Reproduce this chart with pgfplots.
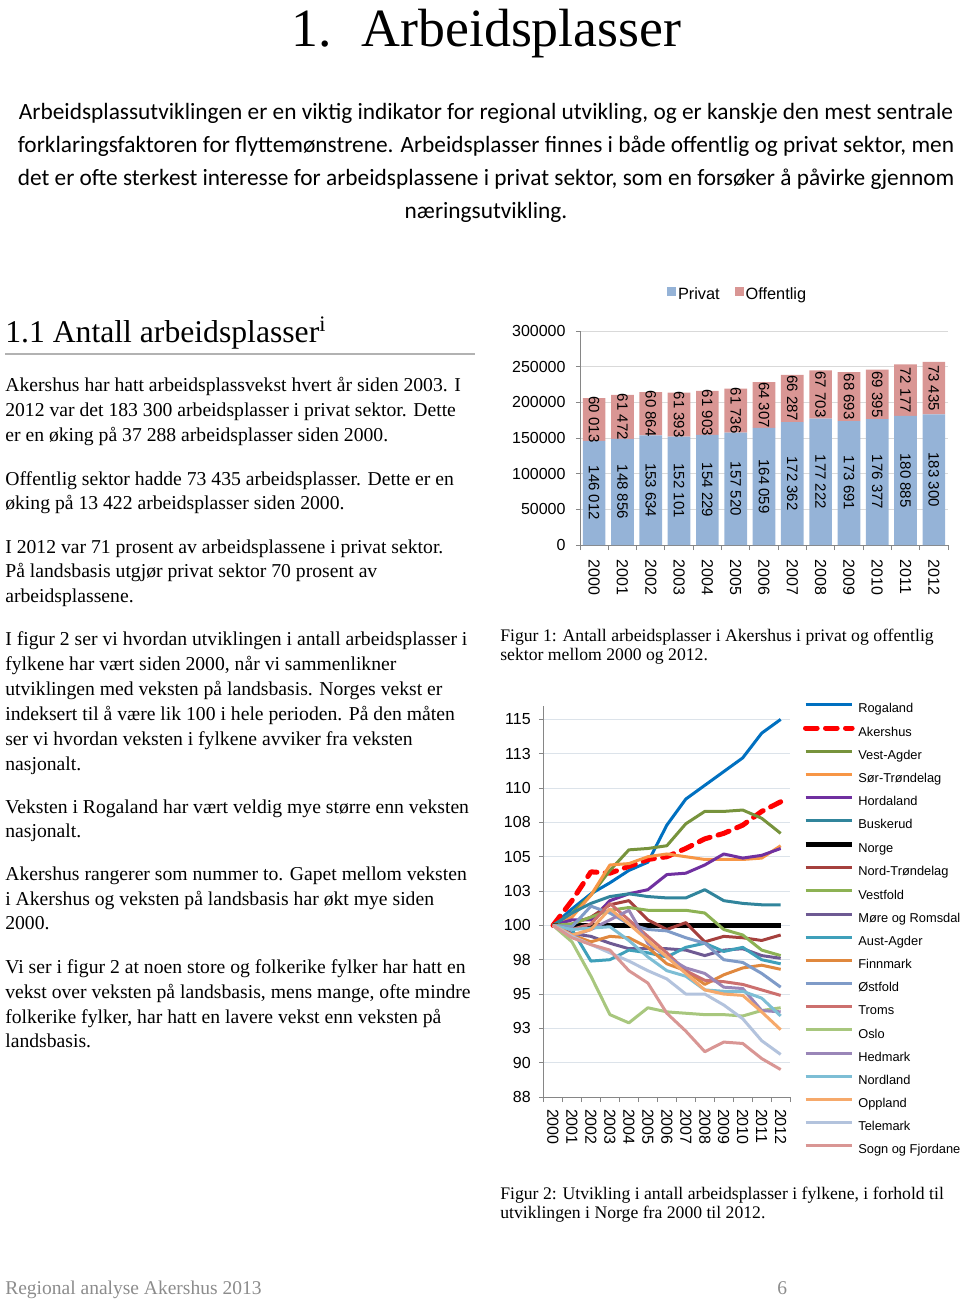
\documentclass[border=0pt]{standalone}
\usepackage{fontspec}
\setmainfont{Liberation Serif}
\setsansfont{Liberation Sans}
\newfontfamily\carlito{Carlito}
\usepackage{pgfplots}
\usepackage{pgfplotstable}
\pgfplotsset{compat=1.18}

\definecolor{cPriv}{HTML}{95B3D7}
\definecolor{cOff}{HTML}{D99694}
\definecolor{axisgray}{HTML}{868686}
\definecolor{gridgray}{HTML}{D9D9D9}
\definecolor{linegrid}{HTML}{DCE3EA}
\definecolor{cRog}{HTML}{0070C0}
\definecolor{cAke}{HTML}{FF0000}
\definecolor{cVA}{HTML}{77933C}
\definecolor{cST}{HTML}{F79646}
\definecolor{cHor}{HTML}{7030A0}
\definecolor{cBus}{HTML}{31859C}
\definecolor{cNT}{HTML}{A5403D}
\definecolor{cVf}{HTML}{8DB254}
\definecolor{cMR}{HTML}{6E5A93}
\definecolor{cAA}{HTML}{3FA0BA}
\definecolor{cFin}{HTML}{E0883E}
\definecolor{cOst}{HTML}{7F9BC8}
\definecolor{cTro}{HTML}{CC706E}
\definecolor{cOslo}{HTML}{A8C77E}
\definecolor{cHed}{HTML}{9A86B8}
\definecolor{cNor}{HTML}{7DBED5}
\definecolor{cOpp}{HTML}{F6A96B}
\definecolor{cTel}{HTML}{B3C3DD}
\definecolor{cSF}{HTML}{D99694}
\definecolor{footgray}{HTML}{8C8C8C}

% Employment in Akershus, private and public sector
\pgfplotstableread{
x priv off
0 146012 60013
1 148856 61472
2 153634 60864
3 152101 61393
4 154229 61903
5 157520 61736
6 164059 64307
7 172362 66287
8 177222 67703
9 173691 68693
10 176377 69395
11 180885 72177
12 183300 73435
}\bardata

% Index of employment by county, Norway = 100
\pgfplotstableread{
year Rog Ake VA ST Hor Bus Nor NT Vf MR AA Fin Ost Tro Oslo Hed Nordl Opp Tel SF
2000 100 100 100 100 100 100 100 100 100 100 100 100 100 100 100 100 100 100 100 100
2001 101.2 101.8 100.9 100.6 100.4 100.9 100 100.1 100.1 99.4 99.7 99.3 99.9 99.7 98.8 99.2 99.7 99.3 99.2 99.1
2002 102.3 103.9 102.2 102.2 100.4 101.6 100 100.6 100.6 99.2 97.4 98.8 101.4 100.1 96.3 99.7 99.8 99.7 98.6 98.6
2003 103.1 103.8 104.0 104.4 101.8 102.1 100 101.5 101.1 98.7 97.5 99.2 100.9 101.6 93.5 100.4 99.9 101.2 98.0 98.2
2004 104.0 104.3 105.5 104.5 102.3 102.3 100 101.8 101.3 98.3 98.2 99.1 100.1 100.4 92.9 101.1 98.9 100.1 97.4 96.7
2005 104.6 104.8 105.6 105.0 102.6 102.1 100 100.4 101.1 98.3 98.0 98.4 99.7 99.2 94.0 98.7 97.7 98.9 96.7 95.8
2006 107.3 105.0 105.8 105.2 103.7 102.0 100 99.7 101.1 98.3 97.7 97.2 99.6 98.0 93.7 97.7 96.7 97.7 96.1 93.6
2007 109.2 105.6 107.4 105.0 103.8 102.0 100 100.2 101.1 98.2 98.4 96.7 99.1 96.7 93.6 96.9 96.3 96.5 95.0 92.3
2008 110.2 106.3 108.3 104.8 104.4 102.6 100 98.8 100.9 97.8 98.7 95.7 98.7 96.0 93.5 96.5 95.3 95.3 95.0 90.8
2009 111.2 106.7 108.3 104.8 105.2 101.8 100 99.2 99.7 98.2 98.1 96.4 97.5 95.9 93.5 95.5 95.2 95.0 94.2 91.5
2010 112.2 107.3 108.4 104.8 104.9 101.6 100 99.1 99.3 98.3 98.4 96.9 97.3 95.7 93.4 95.4 95.2 94.9 93.2 91.4
2011 114.0 108.3 107.8 104.9 105.1 101.5 100 98.9 98.2 97.8 97.5 97.1 96.5 95.3 93.8 93.8 94.7 93.7 91.6 90.3
2012 115.0 109.0 106.7 105.8 105.6 101.5 100 99.3 97.8 97.6 97.2 96.8 95.5 94.9 94.0 93.7 93.4 92.4 90.6 89.5
}\linedata

\newcommand\tickfont{\sffamily\fontsize{9.6}{11}\selectfont}
\newcommand\bodyfont{\fontsize{11.8}{15}\selectfont}
\newcommand\capfont{\fontsize{10.6}{12}\selectfont}

\pgfplotsset{
  barframe/.style={
    at={(348pt,-327pt)}, anchor=south west, scale only axis,
    width=220.8pt, height=128.4pt,
    xmin=-0.5, xmax=12.5, ymin=0, ymax=300000, scaled y ticks=false},
  barlabel/.style={draw=none, mark=none, forget plot,
    nodes near coords={\pgfmathprintnumber[fixed, precision=0, 1000 sep={\ }, assume math mode=true]{\pgfplotspointmeta}},
    every node near coord/.append style={rotate=-90, anchor=center, inner sep=0pt,
      font=\sffamily\fontsize{9}{10}\selectfont}},
}

\begin{document}
\begin{tikzpicture}
\path[use as bounding box] (0,0) rectangle (576pt,-779.4pt);

\begin{scope}[x=0.6pt,y=-0.6pt]
% Title
\node[anchor=base, inner sep=0pt, font=\fontsize{32.3}{36}\selectfont] at (486.5,46) {1.\hspace{0.55em}Arbeidsplasser};
% Intro
\begin{scope}[every node/.style={anchor=base, inner sep=0pt, font=\carlito\fontsize{14}{16}\selectfont}]
\node at (486,119) {Arbeidsplassutviklingen er en viktig indikator for regional utvikling, og er kanskje den mest sentrale};
\node at (486,152) {forklaringsfaktoren for flyttemønstrene. Arbeidsplasser finnes i både offentlig og privat sektor, men};
\node at (486,185) {det er ofte sterkest interesse for arbeidsplassene i privat sektor, som en forsøker å påvirke gjennom};
\node at (486,218) {næringsutvikling.};
\end{scope}
% Heading
\node[anchor=base west, inner sep=0pt, font=\fontsize{19}{22}\selectfont] at (5,342) {1.1 Antall arbeidsplasser\textsuperscript{i}};
\draw[color=gray!60, line width=0.7pt] (5,354) -- (475,354);
% Left column
\begin{scope}[every node/.style={anchor=base west, inner sep=0pt, font=\bodyfont}]
\node at (5,391) {Akershus har hatt arbeidsplassvekst hvert år siden 2003. I};
\node at (5,416) {2012 var det 183 300 arbeidsplasser i privat sektor. Dette};
\node at (5,441) {er en øking på 37 288 arbeidsplasser siden 2000.};
\node at (5,485) {Offentlig sektor hadde 73 435 arbeidsplasser. Dette er en};
\node at (5,509) {øking på 13 422 arbeidsplasser siden 2000.};
\node at (5,553) {I 2012 var 71 prosent av arbeidsplassene i privat sektor.};
\node at (5,577) {På landsbasis utgjør privat sektor 70 prosent av};
\node at (5,602) {arbeidsplassene.};
\node at (5,645) {I figur 2 ser vi hvordan utviklingen i antall arbeidsplasser i};
\node at (5,670) {fylkene har vært siden 2000, når vi sammenlikner};
\node at (5,695) {utviklingen med veksten på landsbasis. Norges vekst er};
\node at (5,720) {indeksert til å være lik 100 i hele perioden. På den måten};
\node at (5,745) {ser vi hvordan veksten i fylkene avviker fra veksten};
\node at (5,770) {nasjonalt.};
\node at (5,813) {Veksten i Rogaland har vært veldig mye større enn veksten};
\node at (5,837) {nasjonalt.};
\node at (5,880) {Akershus rangerer som nummer to. Gapet mellom veksten};
\node at (5,905) {i Akershus og veksten på landsbasis har økt mye siden};
\node at (5,929) {2000.};
\node at (5,973) {Vi ser i figur 2 at noen store og folkerike fylker har hatt en};
\node at (5,998) {vekst over veksten på landsbasis, mens mange, ofte mindre};
\node at (5,1023) {folkerike fylker, har hatt en lavere vekst enn veksten på};
\node at (5,1047) {landsbasis.};
\end{scope}
% Captions
\begin{scope}[every node/.style={anchor=base west, inner sep=0pt, font=\capfont}]
\node at (500,641) {Figur 1: Antall arbeidsplasser i Akershus i privat og offentlig};
\node at (500,660) {sektor mellom 2000 og 2012.};
\node at (500,1199) {Figur 2: Utvikling i antall arbeidsplasser i fylkene, i forhold til};
\node at (500,1218) {utviklingen i Norge fra 2000 til 2012.};
\end{scope}
% Footer
\node[anchor=base west, inner sep=0pt, font=\fontsize{11.7}{14}\selectfont, text=footgray] at (5,1294) {Regional analyse Akershus 2013};
\node[anchor=base west, inner sep=0pt, font=\fontsize{11.7}{14}\selectfont, text=footgray] at (777,1294) {6};
\end{scope}

% ---------------- Figure 1: stacked bars ----------------
\begin{axis}[
  barframe,
  ybar stacked, bar width=13.6pt,
  axis x line*=bottom, axis y line*=left,
  axis line style={color=axisgray, line width=0.6pt},
  ytick={0,50000,100000,150000,200000,250000,300000},
  yticklabels={0,50000,100000,150000,200000,250000,300000},
  ymajorgrids, grid style={color=gridgray, line width=0.6pt},
  xtick={0,...,12},
  xticklabels={2000,2001,2002,2003,2004,2005,2006,2007,2008,2009,2010,2011,2012},
  minor xtick={-0.5,0.5,...,12.5},
  major x tick style={draw=none},
  tick align=outside, major tick length=2.5pt, minor tick length=3pt,
  tick style={color=axisgray, line width=0.6pt},
  yticklabel style={font=\tickfont, inner sep=0pt, xshift=-6pt},
  xticklabel style={font=\tickfont, inner sep=0pt, yshift=-6pt, rotate=-90, anchor=west},
  legend columns=2,
  legend style={draw=none, fill=none, at={(0.428,1)}, anchor=center, yshift=21.6pt,
    font=\sffamily\fontsize{9.8}{11}\selectfont, inner sep=0pt,
    nodes={inner sep=1pt},
    /tikz/every odd column/.append style={column sep=0pt},
    /tikz/every even column/.append style={column sep=8pt}},
]
\addplot[fill=cPriv, draw=none,
  legend image code/.code={\fill[cPriv] (0pt,-0.5pt) rectangle (5.5pt,5pt);}]
  table[x=x, y=priv] {\bardata};
\addplot[fill=cOff, draw=none,
  legend image code/.code={\fill[cOff] (0pt,-0.5pt) rectangle (5.5pt,5pt);}]
  table[x=x, y=off] {\bardata};
\legend{Privat,Offentlig}
\end{axis}
% value labels, centred in each segment
\begin{axis}[barframe, hide axis, clip=false]
\addplot[barlabel, point meta=\thisrow{priv}] table[x=x, y expr=\thisrow{priv}/2] {\bardata};
\addplot[barlabel, point meta=\thisrow{off}] table[x=x, y expr=\thisrow{priv}+\thisrow{off}/2] {\bardata};
\end{axis}

% ---------------- Figure 2: index lines ----------------
\begin{axis}[
  at={(326.1pt,-658.2pt)}, anchor=south west, scale only axis,
  width=148pt, height=234.8pt,
  xmin=1999.5, xmax=2012.5, ymin=87.5, ymax=116,
  axis x line*=bottom, axis y line*=left,
  axis line style={color=axisgray, line width=0.6pt},
  ytick={87.5,90,...,115},
  yticklabels={88,90,93,95,98,100,103,105,108,110,113,115},
  ymajorgrids, grid style={color=linegrid, line width=0.6pt},
  xtick={2000,...,2012},
  xticklabels={2000,2001,2002,2003,2004,2005,2006,2007,2008,2009,2010,2011,2012},
  minor xtick={1999.5,2000.5,...,2012.5},
  major x tick style={draw=none},
  tick align=outside, major tick length=2.5pt, minor tick length=3pt,
  tick style={color=axisgray, line width=0.6pt},
  yticklabel style={font=\tickfont, inner sep=0pt, xshift=-5pt},
  xticklabel style={font=\tickfont, inner sep=0pt, yshift=-4.5pt, rotate=-90, anchor=west},
  no markers,
  every axis plot/.append style={line width=1.8pt, line join=round},
  legend cell align=left,
  legend image code/.code={\draw[#1] (0pt,2.8pt) -- (28pt,2.8pt);},
  legend style={draw=none, fill=none, at={(1,1)}, anchor=north west, xshift=7.5pt, yshift=2.2pt,
    inner sep=0pt, font=\sffamily\fontsize{7.7}{9.4}\selectfont, row sep=6.1pt,
    nodes={inner sep=0pt, text height=6pt, text depth=1.8pt},
    /tikz/every odd column/.append style={column sep=2.2pt}},
]
\addplot[cRog] table[x=year,y=Rog] {\linedata}; \addlegendentry{Rogaland}
\addplot[cAke, line width=3pt, dash pattern=on 7pt off 5pt, line cap=round] table[x=year,y=Ake] {\linedata}; \addlegendentry{Akershus}
\addplot[cVA] table[x=year,y=VA] {\linedata}; \addlegendentry{Vest-Agder}
\addplot[cST] table[x=year,y=ST] {\linedata}; \addlegendentry{Sør-Trøndelag}
\addplot[cHor] table[x=year,y=Hor] {\linedata}; \addlegendentry{Hordaland}
\addplot[cBus] table[x=year,y=Bus] {\linedata}; \addlegendentry{Buskerud}
\addplot[black, line width=3pt] table[x=year,y=Nor] {\linedata}; \addlegendentry{Norge}
\addplot[cNT] table[x=year,y=NT] {\linedata}; \addlegendentry{Nord-Trøndelag}
\addplot[cVf] table[x=year,y=Vf] {\linedata}; \addlegendentry{Vestfold}
\addplot[cMR] table[x=year,y=MR] {\linedata}; \addlegendentry{Møre og Romsdal}
\addplot[cAA] table[x=year,y=AA] {\linedata}; \addlegendentry{Aust-Agder}
\addplot[cFin] table[x=year,y=Fin] {\linedata}; \addlegendentry{Finnmark}
\addplot[cOst] table[x=year,y=Ost] {\linedata}; \addlegendentry{Østfold}
\addplot[cTro] table[x=year,y=Tro] {\linedata}; \addlegendentry{Troms}
\addplot[cOslo] table[x=year,y=Oslo] {\linedata}; \addlegendentry{Oslo}
\addplot[cHed] table[x=year,y=Hed] {\linedata}; \addlegendentry{Hedmark}
\addplot[cNor] table[x=year,y=Nordl] {\linedata}; \addlegendentry{Nordland}
\addplot[cOpp] table[x=year,y=Opp] {\linedata}; \addlegendentry{Oppland}
\addplot[cTel] table[x=year,y=Tel] {\linedata}; \addlegendentry{Telemark}
\addplot[cSF] table[x=year,y=SF] {\linedata}; \addlegendentry{Sogn og Fjordane}
\end{axis}
\end{tikzpicture}
\end{document}
